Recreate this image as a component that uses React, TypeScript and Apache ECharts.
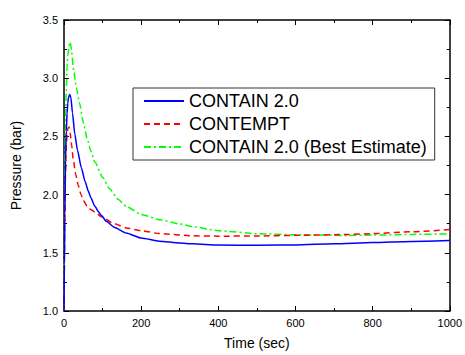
import React, { useEffect, useRef } from "react";
import * as echarts from "echarts";

const seriesNames = ["CONTAIN 2.0", "CONTEMPT", "CONTAIN 2.0 (Best Estimate)"];

const blueT = [0, 1, 2, 4, 6, 8, 10, 12, 15, 18, 22, 28, 35, 45, 55, 63, 70, 80, 90, 97, 110, 130, 161, 200, 247, 300, 333, 400, 505, 600, 700, 800, 900, 1000];
const blueV = [1.0, 1.4, 1.8, 2.3, 2.55, 2.7, 2.79, 2.84, 2.86, 2.83, 2.7, 2.52, 2.38, 2.23, 2.11, 2.03, 1.97, 1.9, 1.85, 1.82, 1.77, 1.72, 1.67, 1.627, 1.6, 1.584, 1.577, 1.567, 1.564, 1.568, 1.577, 1.588, 1.598, 1.606];

const redT = [0, 1, 2, 4, 6, 8, 10, 13, 16, 20, 24, 30, 37, 44, 50, 60, 70, 80, 97, 130, 161, 200, 247, 333, 400, 505, 600, 737, 800, 900, 1000];
const redV = [1.0, 1.4, 1.75, 2.2, 2.42, 2.52, 2.57, 2.58, 2.53, 2.42, 2.3, 2.18, 2.08, 2.0, 1.95, 1.9, 1.87, 1.85, 1.81, 1.75, 1.714, 1.69, 1.665, 1.646, 1.643, 1.644, 1.65, 1.657, 1.665, 1.68, 1.7];

const greenT = [0, 1, 2, 4, 6, 8, 10, 13, 16, 19, 25, 32, 40, 50, 60, 70, 80, 100, 118, 140, 161, 200, 247, 300, 333, 400, 505, 600, 737, 800, 900, 1000];
const greenV = [1.0, 1.5, 2.0, 2.6, 2.9, 3.1, 3.2, 3.28, 3.31, 3.25, 3.07, 2.92, 2.79, 2.62, 2.48, 2.37, 2.28, 2.15, 2.05, 1.96, 1.9, 1.83, 1.785, 1.748, 1.725, 1.69, 1.663, 1.655, 1.649, 1.652, 1.658, 1.663];

const xTicks = { min: 0, max: 1000, interval: 200 };
const yTicks = { min: 1.0, max: 3.5, interval: 0.5 };

const pairs = (t: number[], v: number[]) => t.map((x, i) => [x, v[i]]);

export default function App() {
  const ref = useRef<HTMLDivElement>(null);
  useEffect(() => {
    if (!ref.current) return;
    const chart = echarts.init(ref.current, null, { renderer: "svg" });
    const font = "Liberation Sans, Arial, sans-serif";
    const axisLine = { show: true, onZero: false, lineStyle: { color: "#000", width: 1.5 } };
    const axisTick = { show: true, inside: true, length: 5, lineStyle: { color: "#000", width: 1 } };
    const minorTick = { show: true, splitNumber: 2, length: 3, lineStyle: { color: "#000", width: 1 } };
    const lineCommon = { type: "line", showSymbol: false, symbol: "none", smooth: 0.2, smoothMonotone: "x" };
    chart.setOption({
      animation: false,
      backgroundColor: "#fff",
      grid: { left: 64, right: 13, top: 20, bottom: 41, containLabel: false },
      legend: {
        orient: "vertical",
        left: 133,
        top: 88,
        padding: [4, 8, 4, 10],
        itemGap: 5,
        itemWidth: 40,
        itemHeight: 14,
        itemStyle: { opacity: 0 },
        borderColor: "#333",
        borderWidth: 1,
        backgroundColor: "#fff",
        textStyle: { fontSize: 18, fontFamily: font, color: "#000" },
        itemTextGap: 5,
        data: seriesNames,
      },
      xAxis: [
        {
          type: "value",
          ...xTicks,
          name: "Time (sec)",
          nameLocation: "middle",
          nameGap: 25,
          nameTextStyle: { fontSize: 14, fontFamily: font, color: "#000" },
          axisLine,
          axisTick,
          minorTick,
          splitLine: { show: false },
          axisLabel: { fontSize: 11, fontFamily: font, color: "#000", margin: 6, formatter: (v: number) => String(v) },
        },
        {
          type: "value",
          ...xTicks,
          position: "top",
          axisLine,
          axisTick,
          minorTick,
          splitLine: { show: false },
          axisLabel: { show: false },
        },
      ],
      yAxis: [
        {
          type: "value",
          ...yTicks,
          name: "Pressure (bar)",
          nameLocation: "middle",
          nameGap: 41,
          nameTextStyle: { fontSize: 14, fontFamily: font, color: "#000" },
          axisLine,
          axisTick,
          minorTick,
          splitLine: { show: false },
          axisLabel: { fontSize: 11, fontFamily: font, color: "#000", margin: 6, formatter: (v: number) => v.toFixed(1) },
        },
        {
          type: "value",
          ...yTicks,
          position: "right",
          axisLine,
          axisTick,
          minorTick,
          splitLine: { show: false },
          axisLabel: { show: false },
        },
      ],
      series: [
        {
          ...lineCommon,
          name: seriesNames[0],
          data: pairs(blueT, blueV),
          lineStyle: { color: "#0000ff", width: 1.5, type: "solid" },
          itemStyle: { color: "#0000ff" },
          z: 3,
        },
        {
          ...lineCommon,
          name: seriesNames[1],
          data: pairs(redT, redV),
          lineStyle: { color: "#ff0000", width: 1.5, type: [6, 4] },
          itemStyle: { color: "#ff0000" },
          z: 2,
        },
        {
          ...lineCommon,
          name: seriesNames[2],
          data: pairs(greenT, greenV),
          lineStyle: { color: "#00ff00", width: 1.5, type: [7, 3, 2, 3] },
          itemStyle: { color: "#00ff00" },
          z: 1,
        },
      ],
    });
    return () => chart.dispose();
  }, []);
  return <div ref={ref} style={{ position: "fixed", left: 0, top: 0, width: 465, height: 355 }} />;
}
